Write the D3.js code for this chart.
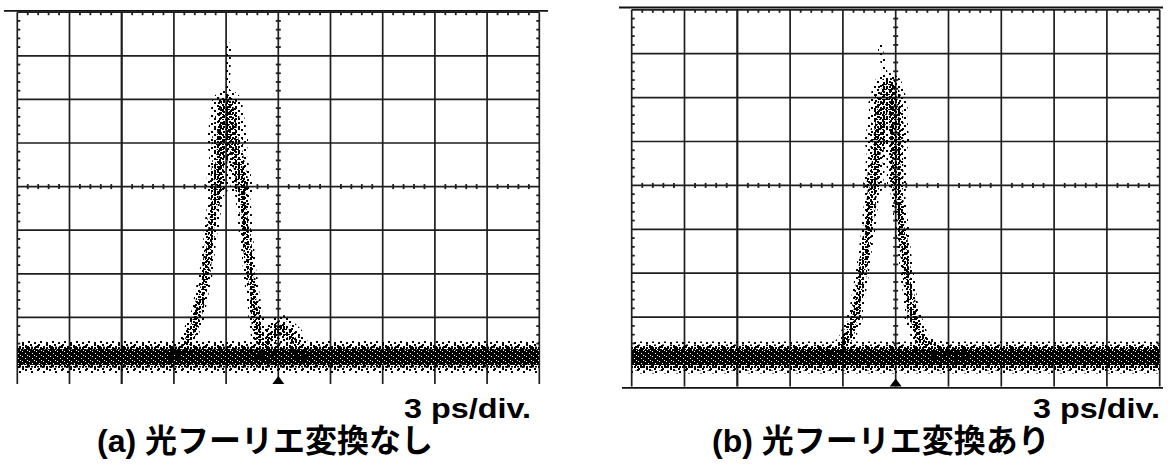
<!DOCTYPE html>
<html><head><meta charset="utf-8">
<script src="https://cdn.jsdelivr.net/npm/d3@7"></script>
<style>
html,body{margin:0;padding:0;background:#fff;}
svg{display:block;}
.lat{font-family:"Liberation Sans",Arial,sans-serif;font-weight:bold;}
.jp{font-family:"Liberation Sans","Noto Sans CJK JP",sans-serif;font-weight:bold;}
</style></head>
<body>
<svg id="chart" width="1172" height="470"></svg>
<script>
// ---------- DATA (time in ps, amplitude in divisions) ----------
const timeTicks = [-15,-12,-9,-6,-3,0,3,6,9,12,15];   // 3 ps/div, 10 divisions
const ampTicks  = [0,1,2,3,4,5,6,7,8];                 // 8 vertical divisions
const panelTitles = ["(a) 光フーリエ変換なし", "(b) 光フーリエ変換あり"];
const scaleLabel = "3 ps/div.";

// (a) without optical Fourier transform
const pulseA_t    = [-6.11,-5.30,-4.67,-4.16,-3.87,-3.52,-3.24,-2.95,-2.60,-2.09,-1.86,-1.63,-1.28,-1.05,-0.59];
const pulseA_amp  = [0.07, 0.37, 1.01, 2.02, 3.00, 3.99, 5.00, 5.87, 5.00, 3.99, 3.00, 2.02, 1.01, 0.41, 0.07];
const pulseA_sd   = [0.16, 0.16, 0.13, 0.12, 0.12, 0.15, 0.26, 0.30, 0.26, 0.15, 0.12, 0.12, 0.13, 0.16, 0.16];
const satA_t      = [-0.94,-0.36, 0.21, 0.79, 1.36];
const satA_amp    = [0.21, 0.60, 0.76, 0.53, 0.21];
const satA_sd     = [0.20, 0.24, 0.26, 0.24, 0.20];
const peakTailA_t   = [-2.95,-2.85];
const peakTailA_amp = [5.87, 7.25];
const baseA_t     = [-15, 15];
const baseA_amp   = [0.09, 0.09];

// (b) with optical Fourier transform
const pulseB_t    = [-3.62,-2.88,-2.31,-1.91,-1.57,-1.29,-1.01,-0.72,-0.44,-0.15, 0.02, 0.07, 0.36, 0.64, 0.98, 1.49, 2.52, 3.65];
const pulseB_amp  = [0.07, 0.41, 1.00, 1.98, 2.98, 3.99, 4.99, 5.83, 6.22, 5.83, 4.99, 3.99, 2.98, 1.98, 1.00, 0.41, 0.20, 0.07];
const pulseB_sd   = [0.16, 0.16, 0.13, 0.12, 0.12, 0.14, 0.22, 0.26, 0.28, 0.26, 0.22, 0.14, 0.12, 0.12, 0.13, 0.18, 0.20, 0.16];
const peakTailB_t   = [-0.44,-0.89];
const peakTailB_amp = [6.22, 7.15];
const baseB_t     = [-15, 15];
const baseB_amp   = [0.08, 0.08];

// ---------- drawing ----------
const svg = d3.select("#chart");
svg.append("rect").attr("width",1172).attr("height",470).attr("fill","#fff");

const defs = svg.append("defs");
function stipple(id, w, h, pts, s, bg){
  const p = defs.append("pattern").attr("id",id).attr("patternUnits","userSpaceOnUse")
    .attr("width",w).attr("height",h);
  if (bg) p.append("rect").attr("width",w).attr("height",h).attr("fill",bg);
  const dot = bg ? "#fff" : "#000";
  pts.forEach(([x,y]) => p.append("rect").attr("x",x).attr("y",y).attr("width",s).attr("height",s)
    .attr("fill",dot).attr("shape-rendering","crispEdges"));
}
stipple("p1", 12, 8, [[1,1],[7,3],[10,6],[4,5]], 2);
stipple("p2", 8, 6, [[2,0],[6,2],[3,4]], 2);
stipple("p3", 6, 5, [[1,1],[4,2],[0,4],[3,4]], 2);
stipple("p5", 7, 5, [[1,1],[4,3],[6,0]], 1, "#000");   // near-solid core with white specks

const zip = (t,a,s) => t.map((v,i)=>({t:v, amp:a[i], sd: s ? s[i] : 0}));

const panels = [
  { left:17.3, right:539.3, top:12.2, zero:361, bottom:384,
    frameTop:{y:10.8, x1:4, x2:548}, frameBottom:null,
    pulse: zip(pulseA_t,pulseA_amp,pulseA_sd), sat: zip(satA_t,satA_amp,satA_sd),
    tail: zip(peakTailA_t,peakTailA_amp), base: zip(baseA_t,baseA_amp),
    label:{x:531, y:418}, title:{x:97, y:452} },
  { left:631.7, right:1159.7, top:9.8, zero:361, bottom:386.5,
    frameTop:{y:7.5, x1:619, x2:1163}, frameBottom:{y:387.8, x1:622, x2:1163},
    pulse: zip(pulseB_t,pulseB_amp,pulseB_sd), sat: null,
    tail: zip(peakTailB_t,peakTailB_amp), base: zip(baseB_t,baseB_amp),
    label:{x:1160, y:418}, title:{x:712, y:452} }
];

panels.forEach((P, pi) => {
  const x = d3.scaleLinear().domain([-15,15]).range([P.left, P.right]);
  const y = d3.scaleLinear().domain([0,8]).range([P.zero, P.top]);
  const g = svg.append("g");
  const gridCol = "#1e1e1e";

  defs.append("clipPath").attr("id","clip"+pi).append("rect")
    .attr("x",P.left).attr("y",P.top).attr("width",P.right-P.left).attr("height",P.bottom-P.top);

  // frame lines
  g.append("line").attr("x1",P.frameTop.x1).attr("x2",P.frameTop.x2)
    .attr("y1",P.frameTop.y).attr("y2",P.frameTop.y).attr("stroke","#111").attr("stroke-width",1.8);
  if (P.frameBottom) g.append("line").attr("x1",P.frameBottom.x1).attr("x2",P.frameBottom.x2)
    .attr("y1",P.frameBottom.y).attr("y2",P.frameBottom.y).attr("stroke","#111").attr("stroke-width",1.8);

  // vertical grid
  g.selectAll(".vg").data(timeTicks).join("line")
    .attr("x1",d=>x(d)).attr("x2",d=>x(d)).attr("y1",y(8)).attr("y2",P.bottom)
    .attr("stroke",gridCol).attr("stroke-width",(d,i)=> (i===2 ? 2.2 : 1.7));
  // horizontal grid
  g.selectAll(".hg").data(ampTicks).join("line")
    .attr("x1",x(-15)).attr("x2",x(15)).attr("y1",d=>y(d)).attr("y2",d=>y(d))
    .attr("stroke",gridCol).attr("stroke-width",1.7);

  // minor ticks (1/5 division)
  const minorT = d3.range(-15, 15.001, 0.6).filter(v => Math.abs(Math.round(v/3)*3 - v) > 1e-6);
  const minorA = d3.range(0, 8.001, 0.2).filter(v => Math.abs(Math.round(v) - v) > 1e-6);
  const tk = (x1,y1,x2,y2) => g.append("line").attr("x1",x1).attr("y1",y1).attr("x2",x2).attr("y2",y2)
      .attr("stroke",gridCol).attr("stroke-width",1.8);
  minorT.forEach(t => { tk(x(t), y(4)-2.5, x(t), y(4)+2.5); tk(x(t), y(8), x(t), y(8)+3); });
  minorA.forEach(a => { tk(x(0)-2.5, y(a), x(0)+2.5, y(a)); tk(x(-15), y(a), x(-15)+3, y(a)); tk(x(15)-3, y(a), x(15), y(a)); });

  // trigger marker
  const tx = x(0), tb = P.bottom;
  g.append("path").attr("d", d3.line()([[tx-6,tb],[tx+6,tb],[tx,tb-8]]) + "Z").attr("fill","#000");

  // stippled traces (clipped to the screen)
  const tg = g.append("g").attr("clip-path",`url(#clip${pi})`);
  const stroke = (data, widthsPx, pats, cap) => {
    const segs = d3.pairs(data);
    pats.forEach((pat, k) => {
      tg.append("g").selectAll("line").data(segs).join("line")
        .attr("x1",d=>x(d[0].t)).attr("y1",d=>y(d[0].amp))
        .attr("x2",d=>x(d[1].t)).attr("y2",d=>y(d[1].amp))
        .attr("stroke",`url(#${pat})`).attr("stroke-linecap",cap || "round")
        .attr("stroke-width", d => widthsPx(d, k));
    });
  };
  const px = sd => y(0) - y(sd);   // amplitude spread -> pixels

  // baseline noise band
  const baseW = [32, 26, 21, 15];
  stroke(P.base, (d,k)=>baseW[k], ["p1","p2","p3","p5"], "butt");

  // pulse
  const pf = [2.5, 1.7, 1.0];
  stroke(P.pulse, (d,k)=> pf[k] * px((d[0].sd + d[1].sd)/2), ["p1","p2","p3"]);
  if (P.sat) stroke(P.sat, (d,k)=> [2.3,1.4,0.6][k] * px((d[0].sd + d[1].sd)/2), ["p1","p2","p3"]);
  stroke(P.tail, () => 5, ["p1"]);

  // labels
  svg.append("text").attr("class","lat").attr("x",P.label.x).attr("y",P.label.y)
    .attr("text-anchor","end").attr("font-size",28).attr("textLength",127)
    .attr("lengthAdjust","spacingAndGlyphs").text(scaleLabel);
  svg.append("text").attr("class","jp").attr("x",P.title.x).attr("y",P.title.y)
    .attr("font-size",32).text(panelTitles[pi]);
});
</script>
</body></html>
